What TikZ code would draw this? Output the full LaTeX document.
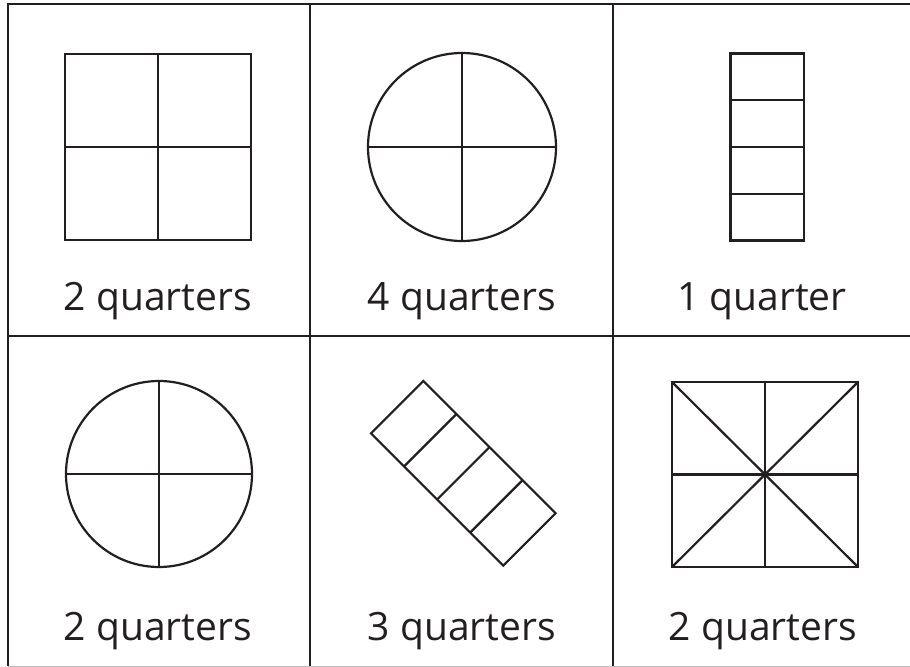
\documentclass[tikz,border=0pt]{standalone}
\usepackage{fontspec}
\setmainfont{Open Sans}
\definecolor{ink}{HTML}{231F20}
\definecolor{rule}{HTML}{BDBDBD}

\begin{document}
\begin{tikzpicture}[x=1bp,y=-1bp,line join=miter,
  grid/.style={draw=ink,line width=2bp},
  outline/.style={draw=ink,line width=2.2bp},
  caption/.style={anchor=base,text=ink,inner sep=0pt,font=\fontsize{39bp}{39bp}\selectfont}]
\useasboundingbox (0,0) rectangle (910,667);
% table rules
\draw[grid] (910,4.5) -- (7.5,4.5) -- (7.5,666);
\draw[grid] (7.5,336) -- (910,336);
\draw[grid] (310,4.5) -- (310,666);
\draw[grid] (612.5,4.5) -- (612.5,666);
\draw[rule,line width=1bp] (7.5,666) -- (910,666);
% top row
\draw[outline] (65,54) rectangle (251,240);
\draw[outline] (158,54) -- (158,240) (65,147) -- (251,147);
\draw[outline] (462,147) circle[radius=94];
\draw[outline] (462,53) -- (462,241) (368,147) -- (556,147);
\draw[outline] (730.5,53.5) rectangle (804,240.5);
\foreach \y in {100.25,147,193.75}
  \draw[outline] (730.5,\y) -- (804,\y);
% bottom row
\draw[outline] (159,474) circle[radius=93];
\draw[outline] (159,381) -- (159,567) (66,474) -- (252,474);
\begin{scope}[shift={(463.3,473.3)},rotate=45]
  \draw[outline] (-37,-93.5) rectangle (37,93.5);
  \foreach \y in {-46.75,0,46.75}
    \draw[outline] (-37,\y) -- (37,\y);
\end{scope}
\draw[outline] (671.7,381.7) rectangle (858.3,567.3);
\draw[outline] (765,381.7) -- (765,567.3) (671.7,474.5) -- (858.3,474.5);
\draw[outline] (671.7,381.7) -- (858.3,567.3) (671.7,567.3) -- (858.3,381.7);
% captions
\node[caption] (capA) at (158,310) {2 quarters};
\node[caption] (capB) at (462,310) {4 quarters};
\node[caption] (capC) at (762,310) {1 quarter};
\node[caption] (capD) at (158,640) {2 quarters};
\node[caption] (capE) at (462,640) {3 quarters};
\node[caption] (capF) at (763,640) {2 quarters};
\end{tikzpicture}
\end{document}
